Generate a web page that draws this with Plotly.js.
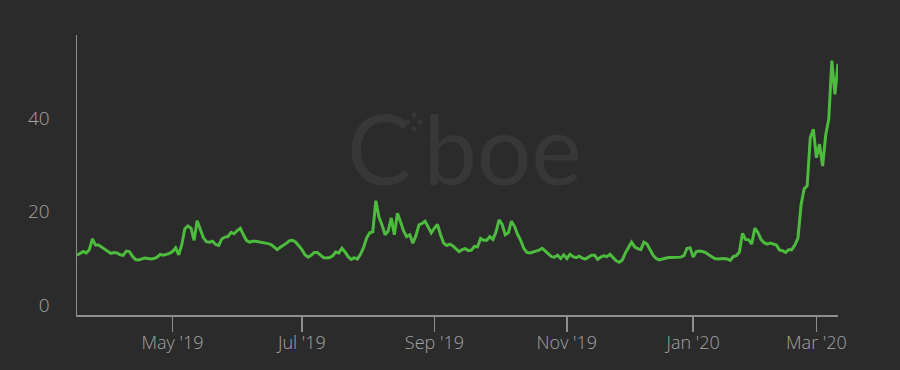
<!DOCTYPE html>
<html>
<head>
<meta charset="utf-8">
<script src="https://cdn.plot.ly/plotly-3.0.1.min.js"></script>
<style>html,body{margin:0;padding:0;background:#2b2b2b;}#chart{width:900px;height:370px;}</style>
</head>
<body>
<div id="chart"></div>
<script>
// Daily closes (trading days), Mar 18 2019 .. Mar 11 2020
const values = [
  12.8,13.2,13.6,13.3,14.0,16.3,15.0,15.0,14.5,14.0,
  13.5,13.2,13.4,13.3,12.9,12.8,13.7,13.6,12.6,11.9,
  11.8,12.0,12.2,12.1,12.0,12.1,12.4,13.0,12.8,13.0,
  13.2,13.6,14.4,12.9,15.0,18.5,19.1,18.6,16.0,20.2,
  18.4,16.6,15.7,15.6,15.8,15.1,14.9,16.3,16.7,16.8,
  17.7,17.4,18.1,18.6,17.2,16.0,15.6,15.8,15.8,15.7,
  15.6,15.5,15.3,15.1,14.6,14.0,14.5,14.9,15.4,15.9,
  16.0,15.6,14.8,14.0,12.9,12.4,12.8,13.4,13.4,12.9,
  12.3,12.2,12.3,12.7,13.5,13.3,14.3,13.5,12.5,11.9,
  12.3,12.0,13.0,14.4,16.5,17.6,17.8,24.5,21.0,19.3,
  17.2,18.0,20.8,17.2,21.8,20.0,18.0,16.8,17.2,15.4,
  17.0,19.3,19.6,20.1,18.8,17.6,18.6,19.4,17.2,15.4,
  14.9,15.2,14.8,14.2,13.6,14.0,14.2,13.8,13.9,14.7,
  14.6,16.4,16.0,16.0,16.8,16.2,17.8,20.4,19.4,17.2,
  17.6,20.1,19.0,17.3,16.0,14.3,13.4,13.3,13.5,13.6,
  13.9,14.3,13.7,13.3,12.5,12.4,12.8,12.1,12.9,12.1,
  13.0,12.5,12.3,12.6,12.2,12.0,12.5,12.8,12.8,11.9,
  12.4,12.7,12.5,13.0,12.3,11.6,11.3,11.8,13.3,14.5,
  15.6,14.6,14.2,14.0,15.6,15.2,14.0,12.8,12.1,11.8,
  12.0,12.2,12.3,12.3,12.3,12.3,12.4,12.7,14.3,14.4,
  12.4,13.6,13.7,13.6,13.4,12.9,12.4,12.1,12.0,12.1,
  12.1,12.0,11.7,12.5,12.7,13.5,17.5,16.2,16.1,15.2,
  18.6,17.7,16.2,15.5,15.2,15.4,15.2,15.0,13.9,13.8,
  13.4,14.0,14.0,15.0,16.5,23.5,27.0,27.7,38.0,39.8,
  33.7,36.6,31.9,38.5,42.0,54.5,47.3,53.8
];
// trading-day index of the first session of each labelled month
const monthTickIndex = [31, 73, 116, 159, 200, 240];
const monthTickLabels = ["May '19", "Jul '19", "Sep '19", "Nov '19", "Jan '20", "Mar '20"];
const yTickValues = [0, 20, 40];
const yTickLabels = ["0", "20", "40"];

const trace = {
  y: values,
  type: 'scatter',
  mode: 'lines',
  line: {color: '#4dbb3d', width: 3},
  hoverinfo: 'skip'
};

const axisGrey = '#8e8e8e';
const labelGrey = '#a3a3a3';
const markGrey = '#373737';

// watermark logo dots (diamond of four dots), decorative, in paper coordinates
const plotL = 77, plotW = 761, plotB = 315, plotH = 280;
function dot(px, py, r) {
  return {type: 'circle', xref: 'paper', yref: 'paper', layer: 'below',
    x0: (px - r - plotL) / plotW, x1: (px + r - plotL) / plotW,
    y0: (plotB - py - r) / plotH, y1: (plotB - py + r) / plotH,
    fillcolor: markGrey, line: {width: 0}};
}
const dc = [414, 122];
const logoDots = [dot(dc[0], dc[1] - 7, 2.6), dot(dc[0] - 6, dc[1], 2.6),
                  dot(dc[0] + 6, dc[1], 2.6), dot(dc[0], dc[1] + 7, 2.6)];

const layout = {
  width: 900, height: 370,
  paper_bgcolor: '#2b2b2b', plot_bgcolor: '#2b2b2b',
  margin: {l: 77, r: 62, t: 35, b: 55, pad: 0},
  showlegend: false,
  xaxis: {
    range: [0, values.length - 1],
    tickmode: 'array', tickvals: monthTickIndex, ticktext: monthTickLabels,
    showgrid: false, zeroline: false,
    showline: true, linecolor: axisGrey, linewidth: 1.5,
    ticks: 'outside', ticklen: 15, tickwidth: 1.5, tickcolor: axisGrey,
    ticklabelstandoff: -4,
    tickfont: {family: 'Open Sans', size: 18, color: labelGrey, weight: 300}
  },
  yaxis: {
    range: [0, 60],
    tickmode: 'array', tickvals: yTickValues, ticktext: yTickLabels,
    showgrid: false, zeroline: false,
    showline: true, linecolor: axisGrey, linewidth: 1.5,
    ticks: '', ticklabelstandoff: 22, ticklabelshift: -10,
    tickfont: {family: 'Open Sans', size: 19, color: labelGrey, weight: 300}
  },
  shapes: logoDots,
  annotations: [
    {xref: 'paper', yref: 'paper', x: 0.509, y: 0.6,
     text: "C\u2009boe", showarrow: false,
     font: {family: 'Lato', size: 96, color: markGrey}, xanchor: 'center', yanchor: 'middle'}
  ]
};

Plotly.newPlot('chart', [trace], layout, {displayModeBar: false, staticPlot: true});
</script>
</body>
</html>
